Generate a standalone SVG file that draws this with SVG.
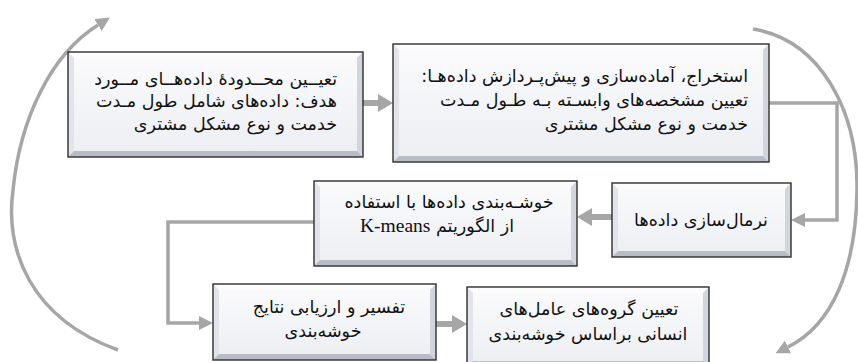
<svg xmlns="http://www.w3.org/2000/svg" width="858" height="362" viewBox="0 0 858 362">
<defs>
<linearGradient id="face" x1="0" y1="0" x2="0" y2="1">
<stop offset="0" stop-color="#fbfbfd"/>
<stop offset="1" stop-color="#eceef2"/>
</linearGradient>
<marker id="headThick" markerUnits="userSpaceOnUse" markerWidth="15" markerHeight="18" refX="0" refY="9" orient="auto">
<path d="M0,0 L15,9 L0,18 z" fill="#a6a6a6"/>
</marker>
<marker id="headThin" markerUnits="userSpaceOnUse" markerWidth="14" markerHeight="14" refX="0" refY="7" orient="auto">
<path d="M0,0 L14,7 L0,14 z" fill="#a6a6a6"/>
</marker>
</defs>
<style>
.face{fill:url(#face);}
.bt{fill:#fcfcfd;}
.bl{fill:#e2e4e9;}
.br{fill:#d2d5dc;}
.bb{fill:#b8bcc6;}
.edge{fill:none;stroke:#2e2e2e;stroke-width:1.4;}
.thick{fill:none;stroke:#a6a6a6;stroke-width:6;marker-end:url(#headThick);}
.thin{fill:none;stroke:#a6a6a6;stroke-width:3.5;marker-end:url(#headThin);}
.curve{fill:none;stroke:#a6a6a6;stroke-width:3.5;marker-end:url(#headThin);}
text{font-family:"DejaVu Sans",sans-serif;font-size:17.5px;fill:#111;direction:rtl;text-anchor:start;}
.c{text-anchor:middle;}
.lat{font-family:"Liberation Serif",serif;font-size:19.5px;}
</style>

<g id="connectors">
<path class="curve" d="M118,350 C30,318 5,250 13,190 C20,120 50,55 98,25"/>
<path class="curve" d="M753,29 C820,40 858,110 857,190 C856,270 832,325 788,347"/>
<path class="thick" d="M363,103 H378"/>
<path class="thin" d="M769,103 H837 V220 H805"/>
<path class="thick" d="M612,217 H592"/>
<path class="thin" d="M314,222 H168 V323 H199"/>
<path class="thick" d="M436,324 H452"/>
</g>

<g id="node1">
<rect class="face" x="68" y="52" width="295" height="105"/>
<polygon class="bt" points="68,52 363,52 357,58 74,58"/>
<polygon class="bl" points="68,52 74,58 74,151 68,157"/>
<polygon class="br" points="363,52 363,157 357,151 357,58"/>
<polygon class="bb" points="68,157 74,151 357,151 363,157"/>
<rect class="edge" x="68" y="52" width="295" height="105"/>
<text x="337" y="85">تعیــین محــدودهٔ داده&#8204;هــای مــورد</text>
<text x="337" y="107">هدف: داده&#8204;های شامل طول مـدت</text>
<text x="337" y="130">خدمت و نوع مشکل مشتری</text>
</g>

<g id="node2">
<rect class="face" x="393" y="44" width="376" height="118"/>
<polygon class="bt" points="393,44 769,44 763,50 399,50"/>
<polygon class="bl" points="393,44 399,50 399,156 393,162"/>
<polygon class="br" points="769,44 769,162 763,156 763,50"/>
<polygon class="bb" points="393,162 399,156 763,156 769,162"/>
<rect class="edge" x="393" y="44" width="376" height="118"/>
<text x="748" y="82">استخراج، آماده&#8204;سازی و پیش&#8204;پـردازش داده&#8204;هـا:</text>
<text x="748" y="106">تعیین مشخصه&#8204;های وابسـته بـه طـول مـدت</text>
<text x="748" y="130">خدمت و نوع مشکل مشتری</text>
</g>

<g id="node3">
<rect class="face" x="612" y="183" width="179" height="74"/>
<polygon class="bt" points="612,183 791,183 785,189 618,189"/>
<polygon class="bl" points="612,183 618,189 618,251 612,257"/>
<polygon class="br" points="791,183 791,257 785,251 785,189"/>
<polygon class="bb" points="612,257 618,251 785,251 791,257"/>
<rect class="edge" x="612" y="183" width="179" height="74"/>
<text class="c" x="701" y="226">نرمال&#8204;سازی داده&#8204;ها</text>
</g>

<g id="node4">
<rect class="face" x="314" y="181" width="263" height="85"/>
<polygon class="bt" points="314,181 577,181 571,187 320,187"/>
<polygon class="bl" points="314,181 320,187 320,260 314,266"/>
<polygon class="br" points="577,181 577,266 571,260 571,187"/>
<polygon class="bb" points="314,266 320,260 571,260 577,266"/>
<rect class="edge" x="314" y="181" width="263" height="85"/>
<text class="c" x="449" y="208">خوشـه&#8204;بندی داده&#8204;ها با استفاده</text>
<text class="c" x="437" y="232">از الگوریتم <tspan class="lat">K-means</tspan></text>
</g>

<g id="node5">
<rect class="face" x="213" y="284" width="223" height="76"/>
<polygon class="bt" points="213,284 436,284 430,290 219,290"/>
<polygon class="bl" points="213,284 219,290 219,354 213,360"/>
<polygon class="br" points="436,284 436,360 430,354 430,290"/>
<polygon class="bb" points="213,360 219,354 430,354 436,360"/>
<rect class="edge" x="213" y="284" width="223" height="76"/>
<text class="c" x="329" y="313">تفسیر و ارزیابی نتایج</text>
<text class="c" x="323" y="337">خوشه&#8204;بندی</text>
</g>

<g id="node6">
<rect class="face" x="467" y="287" width="242" height="80"/>
<polygon class="bt" points="467,287 709,287 703,293 473,293"/>
<polygon class="bl" points="467,287 473,293 473,361 467,367"/>
<polygon class="br" points="709,287 709,367 703,361 703,293"/>
<polygon class="bb" points="467,367 473,361 703,361 709,367"/>
<rect class="edge" x="467" y="287" width="242" height="80"/>
<text class="c" x="589" y="315">تعیین گروه&#8204;های عامل&#8204;های</text>
<text class="c" x="588" y="340">انسانی براساس خوشه&#8204;بندی</text>
</g>
</svg>
